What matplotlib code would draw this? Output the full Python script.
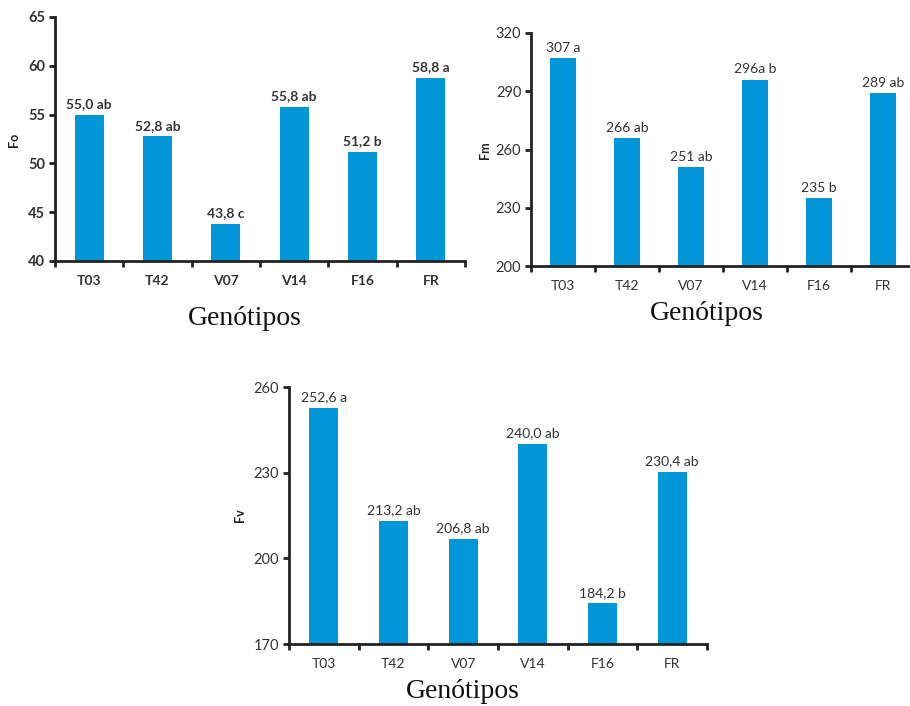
import matplotlib.pyplot as plt
import numpy as np

genotipos = ["T03", "T42", "V07", "V14", "F16", "FR"]

fo = [55.0, 52.8, 43.8, 55.8, 51.2, 58.8]
fo_labels = ["55,0 ab", "52,8 ab", "43,8 c", "55,8 ab", "51,2 b", "58,8 a"]

fm = [307, 266, 251, 296, 235, 289]
fm_labels = ["307 a", "266 ab", "251 ab", "296a b", "235 b", "289 ab"]

fv = [252.6, 213.2, 206.8, 240.0, 184.2, 230.4]
fv_labels = ["252,6 a", "213,2 ab", "206,8 ab", "240,0 ab", "184,2 b", "230,4 ab"]

W, H = 910, 706
blue = "#0096d8"
dark = "#222222"

plt.rcParams['font.family'] = ['Lato', 'DejaVu Sans']

fig = plt.figure(figsize=(W / 100, H / 100), dpi=100)


def panel(px, values, labels, ylim, yticks, ylabel, bold, lab_pos, ylab_pos):
    # px = (left, top, right, bottom) in pixels
    l, t, r, b = px
    ax = fig.add_axes([l / W, 1 - b / H, (r - l) / W, (b - t) / H])
    x = np.arange(len(values))
    ax.bar(x, values, width=0.42, color=blue, zorder=2)
    ax.set_xlim(-0.5, len(values) - 0.5)
    ax.set_ylim(*ylim)
    ax.set_yticks(yticks)
    weight = 'bold' if bold else 'normal'
    span = ylim[1] - ylim[0]
    for xi, v, s in zip(x, values, labels):
        ax.text(xi, v + span * 0.018, s, ha='center', va='bottom',
                fontsize=10, fontweight=weight, color='#333333')
    ax.set_xticks(x)
    ax.set_xticklabels(genotipos, fontweight=weight)
    ax.set_xticks(np.arange(len(values) + 1) - 0.5, minor=True)
    ax.tick_params(axis='x', which='major', length=0, pad=10,
                   labelsize=10, labelcolor='#333333')
    ax.tick_params(axis='x', which='minor', length=4, width=2, color=dark,
                   direction='out')
    ax.tick_params(axis='y', length=4, width=2, color=dark, labelsize=10.5,
                   labelcolor='#333333', pad=3)
    for lab in ax.get_yticklabels():
        lab.set_fontweight(weight)
    for side in ('top', 'right'):
        ax.spines[side].set_visible(False)
    for side in ('left', 'bottom'):
        ax.spines[side].set_linewidth(2)
        ax.spines[side].set_color(dark)
    fig.text(ylab_pos[0] / W, 1 - ylab_pos[1] / H, ylabel, rotation=90,
             ha='center', va='center', fontsize=9, fontweight='bold',
             color=dark)
    fig.text(lab_pos[0] / W, 1 - lab_pos[1] / H, "Genótipos",
             ha='center', va='center', fontsize=20,
             family=['Liberation Serif', 'DejaVu Serif'], color='#111111')
    return ax


panel((55, 17, 465, 261), fo, fo_labels, (40, 65), [40, 45, 50, 55, 60, 65],
      "Fo", True, (245, 318), (14, 140))
panel((531, 33, 915, 266), fm, fm_labels, (200, 320), [200, 230, 260, 290, 320],
      "Fm", False, (707, 314), (485, 150))
panel((289, 387, 707, 644), fv, fv_labels, (170, 260), [170, 200, 230, 260],
      "Fv", False, (463, 692), (240, 515))

fig.savefig("out.png", dpi=100, facecolor='white')
